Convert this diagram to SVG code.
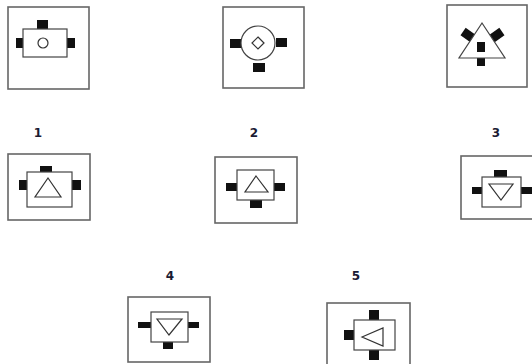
<svg xmlns="http://www.w3.org/2000/svg" width="532" height="364" viewBox="0 0 532 364">
<style>
.frame{fill:#fff;stroke:#666;stroke-width:1.6}
.inner{fill:#fff;stroke:#444;stroke-width:1.2}
.blk{fill:#111}
.sym{fill:none;stroke:#333;stroke-width:1.2}
.lbl{font-family:"DejaVu Sans",Verdana,sans-serif;font-weight:bold;font-size:12px;fill:#1b1b33;text-anchor:middle}
</style>
<rect width="532" height="364" fill="#fff"/>
<g id="ref-a">
<rect class="frame" x="8" y="7" width="81" height="82"/>
<rect class="blk" x="37" y="20" width="11" height="9"/>
<rect class="blk" x="16" y="38" width="7" height="10"/>
<rect class="blk" x="67" y="38" width="8" height="10"/>
<rect class="inner" x="23" y="29" width="44" height="28"/>
<circle class="sym" cx="43" cy="43" r="5"/>
</g>
<g id="ref-b">
<rect class="frame" x="223" y="7" width="81" height="81"/>
<rect class="blk" x="230" y="39" width="11" height="9"/>
<rect class="blk" x="276" y="38" width="11" height="9"/>
<rect class="blk" x="253" y="63" width="12" height="9"/>
<circle class="inner" cx="258" cy="43" r="17"/>
<polygon class="sym" points="258,37 264,43 258,49 252,43"/>
</g>
<g id="ref-c">
<rect class="frame" x="447" y="5" width="80" height="82"/>
<rect class="blk" x="477" y="58" width="8" height="8"/>
<rect class="blk" x="-6" y="-4.5" width="12" height="9" transform="translate(468,35) rotate(35)"/>
<rect class="blk" x="-6" y="-4.5" width="12" height="9" transform="translate(497,35) rotate(-35)"/>
<polygon class="inner" points="482,23 505,58 459,58"/>
<rect class="blk" x="477" y="42" width="8" height="10"/>
</g>
<g id="opt-1">
<text class="lbl" x="38" y="137">1</text>
<rect class="frame" x="8" y="154" width="82" height="66"/>
<rect class="blk" x="40" y="166" width="12" height="6"/>
<rect class="blk" x="19" y="180" width="8" height="10"/>
<rect class="blk" x="72" y="180" width="9" height="10"/>
<rect class="inner" x="27" y="172" width="45" height="35"/>
<polygon class="sym" points="48,178 61,197 35,197"/>
</g>
<g id="opt-2">
<text class="lbl" x="254" y="137">2</text>
<rect class="frame" x="215" y="157" width="82" height="66"/>
<rect class="blk" x="226" y="183" width="11" height="8"/>
<rect class="blk" x="274" y="183" width="11" height="8"/>
<rect class="blk" x="250" y="200" width="12" height="8"/>
<rect class="inner" x="237" y="170" width="37" height="30"/>
<polygon class="sym" points="256,176 268,192 245,192"/>
</g>
<g id="opt-3">
<text class="lbl" x="496" y="137">3</text>
<rect class="frame" x="461" y="156" width="80" height="63"/>
<rect class="blk" x="494" y="170" width="13" height="7"/>
<rect class="blk" x="472" y="187" width="10" height="7"/>
<rect class="blk" x="521" y="187" width="11" height="7"/>
<rect class="inner" x="482" y="177" width="39" height="30"/>
<polygon class="sym" points="489,184 513,184 501,200"/>
</g>
<g id="opt-4">
<text class="lbl" x="170" y="280">4</text>
<rect class="frame" x="128" y="297" width="82" height="65"/>
<rect class="blk" x="138" y="322" width="13" height="6"/>
<rect class="blk" x="188" y="322" width="11" height="6"/>
<rect class="blk" x="163" y="342" width="10" height="7"/>
<rect class="inner" x="151" y="312" width="37" height="30"/>
<polygon class="sym" points="157,319 182,319 169,335"/>
</g>
<g id="opt-5">
<text class="lbl" x="356" y="280">5</text>
<rect class="frame" x="327" y="303" width="83" height="62"/>
<rect class="blk" x="369" y="310" width="10" height="10"/>
<rect class="blk" x="369" y="350" width="10" height="10"/>
<rect class="blk" x="344" y="330" width="10" height="10"/>
<rect class="inner" x="354" y="320" width="41" height="30"/>
<polygon class="sym" points="362,337 383,328 383,346"/>
</g>
<g id="connectors"/>
</svg>
